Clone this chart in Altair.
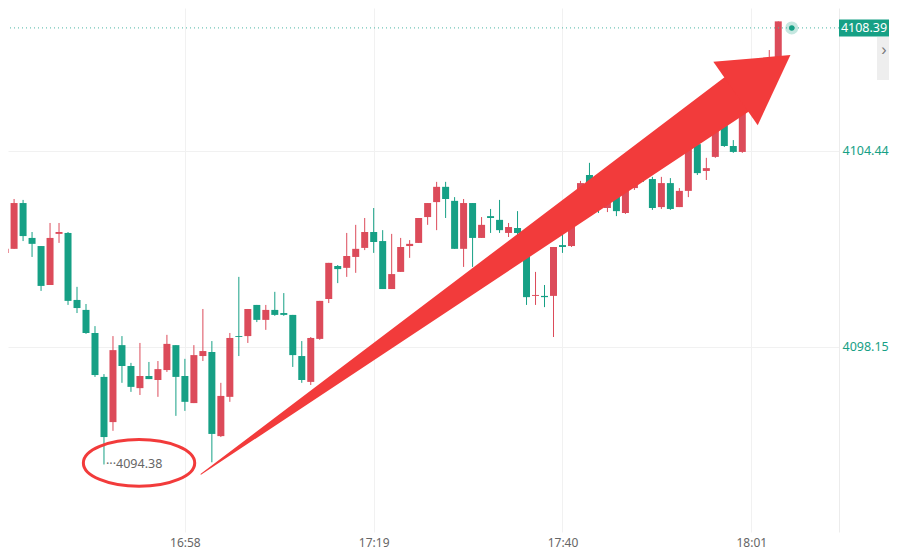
import altair as alt
import pandas as pd

# ---------------- data (1-minute candles) ----------------
first_minute = 16 * 60 + 38  # 16:38

opens = [4101.17, 4101.30, 4102.77, 4101.65, 4101.39, 4100.14, 4101.78, 4101.81, 4099.66, 4099.34,
         4098.60, 4097.19, 4095.74, 4098.21, 4097.54, 4096.83, 4097.22, 4097.09, 4097.41, 4098.21,
         4097.22, 4096.35, 4097.86, 4097.99, 4095.29, 4096.55, 4098.50, 4098.50, 4099.50, 4099.02,
         4099.34, 4099.24, 4099.18, 4097.86, 4097.03, 4098.41, 4099.69, 4100.75, 4100.69, 4101.04,
         4101.33, 4101.84, 4101.55, 4100.01, 4100.56, 4101.39, 4101.49, 4102.32, 4102.80, 4103.29,
         4102.84, 4101.30, 4102.77, 4101.65, 4102.35, 4102.23, 4101.81, 4101.97, 4101.26, 4099.79,
         4099.79, 4099.79, 4101.42, 4101.39, 4102.71, 4103.67, 4103.19, 4102.61, 4103.09, 4102.45,
         4103.25, 4103.83, 4103.54, 4102.64, 4103.41, 4102.64, 4103.16, 4104.66, 4103.80, 4104.25,
         4105.27, 4104.60, 4104.41, 4106.08, 4106.56, 4106.40, 4107.36]
closes = [4101.30, 4102.77, 4101.71, 4101.46, 4100.11, 4101.65, 4101.84, 4099.63, 4099.40, 4098.60,
          4097.25, 4095.26, 4098.05, 4097.54, 4096.87, 4097.22, 4097.12, 4097.44, 4098.25, 4097.19,
          4096.39, 4097.89, 4098.02, 4095.36, 4096.58, 4098.44, 4098.47, 4099.37, 4099.02, 4099.34,
          4099.18, 4099.18, 4097.89, 4097.09, 4098.44, 4099.63, 4100.85, 4100.65, 4101.07, 4101.30,
          4101.84, 4101.52, 4100.01, 4100.49, 4101.36, 4101.46, 4102.29, 4102.77, 4103.29, 4102.90,
          4101.30, 4102.77, 4101.65, 4102.07, 4102.29, 4101.90, 4102.00, 4101.81, 4099.75, 4099.82,
          4099.75, 4101.36, 4101.36, 4102.71, 4103.41, 4103.03, 4102.71, 4103.03, 4102.51, 4103.29,
          4103.57, 4103.57, 4102.61, 4103.41, 4102.58, 4103.16, 4104.57, 4103.73, 4103.89, 4105.37,
          4104.60, 4104.41, 4106.08, 4106.56, 4106.33, 4107.36, 4108.60]
highs = [4101.36, 4102.90, 4102.87, 4101.84, 4101.39, 4102.13, 4102.13, 4101.84, 4100.08, 4099.53,
         4098.82, 4097.28, 4098.50, 4098.50, 4097.64, 4098.28, 4097.67, 4097.70, 4098.54, 4098.21,
         4097.77, 4098.21, 4099.37, 4098.34, 4097.00, 4098.60, 4100.40, 4099.37, 4099.50, 4099.50,
         4099.92, 4099.88, 4099.18, 4098.34, 4098.47, 4099.63, 4100.85, 4100.78, 4101.81, 4102.07,
         4102.29, 4102.61, 4101.90, 4101.78, 4101.65, 4101.58, 4102.29, 4102.77, 4103.45, 4103.45,
         4102.96, 4102.90, 4102.77, 4102.32, 4102.58, 4102.87, 4102.13, 4102.51, 4101.42, 4100.56,
         4100.14, 4101.36, 4101.84, 4102.87, 4103.48, 4104.06, 4103.35, 4103.19, 4103.19, 4103.35,
         4103.76, 4103.99, 4103.61, 4103.61, 4103.57, 4103.25, 4104.57, 4104.70, 4104.22, 4105.50,
         4105.37, 4104.79, 4106.24, 4106.72, 4106.88, 4107.68, 4108.60]
lows = [4101.11, 4101.30, 4101.55, 4101.04, 4099.95, 4100.14, 4101.49, 4099.50, 4099.24, 4098.57,
        4097.19, 4094.38, 4095.46, 4097.00, 4096.71, 4096.61, 4097.12, 4096.55, 4097.35, 4095.94,
        4096.10, 4096.35, 4097.70, 4094.45, 4095.26, 4096.39, 4097.86, 4098.28, 4098.95, 4098.70,
        4099.15, 4099.15, 4097.51, 4097.00, 4096.93, 4098.38, 4099.56, 4100.20, 4100.40, 4100.53,
        4101.26, 4101.17, 4100.01, 4100.01, 4100.56, 4101.01, 4101.49, 4102.07, 4101.90, 4102.29,
        4101.30, 4100.72, 4100.72, 4101.65, 4101.81, 4101.81, 4101.68, 4101.71, 4099.50, 4099.50,
        4099.43, 4098.47, 4101.17, 4101.36, 4102.39, 4102.87, 4102.45, 4102.48, 4102.35, 4102.42,
        4103.19, 4103.45, 4102.55, 4102.58, 4102.55, 4102.64, 4102.96, 4103.67, 4103.51, 4104.22,
        4104.57, 4104.38, 4104.38, 4105.92, 4106.14, 4106.24, 4107.30]

times = [f"{(first_minute + k) // 60}:{(first_minute + k) % 60:02d}" for k in range(len(opens))]

x_tick_labels = ["16:58", "17:19", "17:40", "18:01"]
y_tick_values = [4098.15, 4104.44]
last_price = 4108.39
low_price = 4094.38
low_time = "16:49"

# annotation anchors (minutes since midnight, price)
arrow_x = [1019.8, 1079.3]
arrow_y = [4094.07, 4106.24]
arrow_w = [0, 42]
head_x, head_y = 1082.3, 4106.90
ellipse_x, ellipse_y = 1012.9, 4094.43
pulse_x = 1085.5

x_domain = [998.88, 1090.2]
y_domain = [4092.213, 4109.029]

RED = "#DC4B5A"
GREEN = "#16A085"
ARROW = "#F23B3B"


def to_min(t):
    h, m = t.split(":")
    return int(h) * 60 + int(m)


df = pd.DataFrame({"time": times, "open": opens, "close": closes, "high": highs, "low": lows})
df["minute"] = [to_min(t) for t in times]

xs = alt.Scale(domain=x_domain, nice=False, zero=False)
ys = alt.Scale(domain=y_domain, nice=False, zero=False)

color_cond = alt.condition("datum.close >= datum.open", alt.value(RED), alt.value(GREEN))

x_axis = alt.Axis(
    values=[to_min(t) for t in x_tick_labels],
    labelExpr="floor(datum.value/60) + ':' + (datum.value % 60 < 10 ? '0' : '') + (datum.value % 60)",
    grid=True, gridColor="#F1F1F1", domain=False, ticks=False,
    labelColor="#666666", labelFontSize=12, labelPadding=5, labelFont="Noto Sans",
)
y_axis = alt.Axis(
    orient="right", values=y_tick_values, format=".2f",
    grid=True, gridColor="#F1F1F1", domain=True, domainColor="#ECECEC", ticks=False,
    labelColor=GREEN, labelFontSize=12.5, labelPadding=3, labelFont="Noto Sans",
)


def X(field):
    return alt.X(field, scale=xs, axis=x_axis, title=None)


def Y(field):
    return alt.Y(field, scale=ys, axis=y_axis, title=None)


base = alt.Chart(df)

wicks = base.mark_rule(strokeWidth=1, clip=True).encode(
    x=X("minute:Q"), y=Y("low:Q"), y2="high:Q", color=color_cond,
)
bodies = base.mark_bar(size=7, clip=True).encode(
    x=X("minute:Q"), y=Y("open:Q"), y2="close:Q", color=color_cond,
)

price_df = pd.DataFrame({"price": [last_price], "label": [f"{last_price:.2f}"], "minute": [pulse_x]})
price_line = alt.Chart(price_df).mark_rule(strokeDash=[1, 3], strokeWidth=1, color="#4DB6A4").encode(
    y=Y("price:Q")
)
price_box = alt.Chart(price_df).mark_point(
    shape="M-1,-0.34L1,-0.34L1,0.34L-1,0.34Z", size=2500, filled=True, opacity=1, color=GREEN
).encode(x=alt.value(856), y=Y("price:Q"))
price_text = alt.Chart(price_df).mark_text(
    color="white", fontSize=12.5, font="Noto Sans", align="center", baseline="middle"
).encode(x=alt.value(856), y=Y("price:Q"), text="label:N")
pulse_halo = alt.Chart(price_df).mark_circle(size=170, color=GREEN, opacity=0.25).encode(
    x=X("minute:Q"), y=Y("price:Q")
)
pulse_dot = alt.Chart(price_df).mark_circle(size=30, color=GREEN, opacity=1).encode(
    x=X("minute:Q"), y=Y("price:Q")
)

low_df = pd.DataFrame({"minute": [to_min(low_time)], "price": [low_price],
                       "label": [f"···{low_price:.2f}"]})
low_text = alt.Chart(low_df).mark_text(
    align="left", baseline="middle", dx=2, fontSize=12.5, color="#666666", font="Noto Sans"
).encode(x=X("minute:Q"), y=Y("price:Q"), text="label:N")

ellipse_df = pd.DataFrame({"minute": [ellipse_x], "price": [ellipse_y]})
ellipse = alt.Chart(ellipse_df).mark_point(
    shape=("M-1,0C-1,-0.232,-0.552,-0.42,0,-0.42C0.552,-0.42,1,-0.232,1,0"
           "C1,0.232,0.552,0.42,0,0.42C-0.552,0.42,-1,0.232,-1,0Z"),
    size=12400, filled=False, strokeWidth=3, opacity=1, color=ARROW,
).encode(x=X("minute:Q"), y=Y("price:Q"))

arrow_df = pd.DataFrame({"minute": arrow_x, "price": arrow_y, "w": arrow_w})
shaft = alt.Chart(arrow_df).mark_trail(color=ARROW, clip=True).encode(
    x=X("minute:Q"), y=Y("price:Q"),
    size=alt.Size("w:Q", scale=None, legend=None),
)
head_df = pd.DataFrame({"minute": [head_x], "price": [head_y]})
head = alt.Chart(head_df).mark_point(
    shape="triangle-up", size=5990, angle=55, filled=True, opacity=1, color=ARROW
).encode(x=X("minute:Q"), y=Y("price:Q"))

tab = alt.Chart(price_df).mark_rect(color="#EEEEEE").encode(
    x=alt.value(869), x2=alt.value(881), y=alt.value(29), y2=alt.value(72)
)
tab_text = alt.Chart(price_df).mark_text(text="›", fontSize=16, color="#777777").encode(
    x=alt.value(876), y=alt.value(42)
)

chart = alt.layer(
    wicks, bodies, price_line, low_text, ellipse, shaft, head,
    pulse_halo, pulse_dot, price_box, price_text, tab, tab_text
).properties(
    width=831, height=524,
    padding={"left": 0, "top": 0, "right": 50, "bottom": 17},
    autosize=alt.AutoSizeParams(type="none"),
    background="white",
).configure_view(strokeWidth=0)

chart.save("out.html", embed_options={"renderer": "svg", "actions": False})
